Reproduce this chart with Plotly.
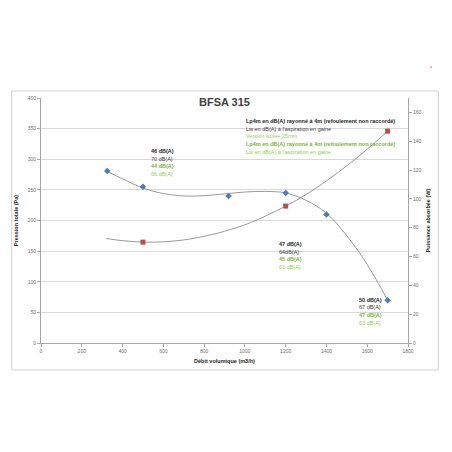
"""BFSA 315 fan curve: total pressure and absorbed power vs air flow."""
from plotly import graph_objects as go

# measured points
flow_pressure = [325, 500, 920, 1200, 1400, 1700]
pressure = [281, 255, 240, 245, 210, 70]
flow_power = [500, 1200, 1700]
power = [70, 95, 147]

# trend curves
trend_p_x = [320, 400, 500, 600, 700, 800, 900, 1000, 1100, 1200, 1300, 1400, 1500, 1600, 1700]
trend_p_y = [281, 268, 253, 244, 240, 240.5, 243.5, 246.5, 247.5, 245, 233, 212, 175, 128, 70]
trend_w_x = [320, 400, 500, 600, 700, 800, 900, 1000, 1100, 1200, 1300, 1400, 1500, 1600, 1700]
trend_w_y = [72.5, 71, 70, 70.2, 71.5, 74, 77.5, 82, 88, 95, 103, 112.5, 123, 134.5, 147]

# acoustic labels (Lp4m, Lw, Lp4m isolated, Lw isolated)
sound_groups = [
    ["46 dB(A)", "70 dB(A)", "44 dB(A)", "66 dB(A)"],
    ["47 dB(A)", "64dB(A)", "45 dB(A)", "61 dB(A)"],
    ["50 dB(A)", "67 dB(A)", "47 dB(A)", "63 dB(A)"],
]
legend_lines = [
    "Lp4m en dB(A) rayonné à 4m (refoulement non raccordé)",
    "Lw en dB(A) à l'aspiration en gaine",
    "Version isolée 25mm",
    "Lp4m en dB(A) rayonné à 4m (refoulement non raccordé)",
    "Lw en dB(A) à l'aspiration en gaine",
]

# label anchors (x in m3/h, y of first line in Pa)
group_pos = [(531, 314), (1156, 162), (1549, 71)]
legend_pos = (994, 363)
line_step = 12.8

sound_styles = [("#262626", True), ("#404040", False), ("#7cb342", True), ("#92d050", False)]
legend_styles = [("#262626", True), ("#404040", False), ("#92d050", False),
                 ("#7cb342", True), ("#92d050", False)]

FONT = "Liberation Sans"

fig = go.Figure()

fig.add_trace(go.Scatter(x=trend_p_x, y=trend_p_y, mode="lines", line_shape="spline",
                         line=dict(color="#7f7f7f", width=0.8), hoverinfo="skip"))
fig.add_trace(go.Scatter(x=trend_w_x, y=trend_w_y, mode="lines", line_shape="spline",
                         line=dict(color="#7f7f7f", width=0.8), yaxis="y2", hoverinfo="skip"))
fig.add_trace(go.Scatter(x=flow_pressure, y=pressure, mode="markers",
                         marker=dict(symbol="diamond", size=5, color="#4a7ebb"),
                         name="Pression totale (Pa)"))
fig.add_trace(go.Scatter(x=flow_power, y=power, mode="markers", yaxis="y2",
                         marker=dict(symbol="square", size=5, color="#be4b48"),
                         name="Puissance absorbée (W)"))


def txt(text, x, y, color, bold):
    fig.add_annotation(
        x=x, y=y, xref="x", yref="y", text=f"<b>{text}</b>" if bold else text,
        showarrow=False, xanchor="left", yanchor="middle",
        font=dict(family=FONT, size=5.5, color=color),
    )


for group, (gx, gy) in zip(sound_groups, group_pos):
    for i, (label, (color, bold)) in enumerate(zip(group, sound_styles)):
        txt(label, gx, gy - i * line_step, color, bold)

for i, (label, (color, bold)) in enumerate(zip(legend_lines, legend_styles)):
    txt(label, legend_pos[0], legend_pos[1] - i * line_step, color, bold)

fig.add_annotation(x=0.5, y=0.984, xref="paper", yref="paper", text="<b>BFSA 315</b>",
                   showarrow=False, yanchor="middle",
                   font=dict(family=FONT, size=11, color="#404040"))

# chart frame and stray mark
fig.add_shape(type="rect", xref="paper", yref="paper", x0=-0.0798, x1=1.0826,
              y0=-0.110, y1=1.0286, line=dict(color="#d0d0d0", width=1))
fig.add_shape(type="circle", xref="paper", yref="paper", x0=1.0600, x1=1.0654,
              y0=1.1240, y1=1.1290, fillcolor="#e03030", line=dict(width=0))

axis_font = dict(family=FONT, size=5, color="#6e6e6e")
title_font = dict(family=FONT, size=5.5, color="#262626")

fig.update_layout(
    width=452,
    height=452,
    margin=dict(l=33, r=52, t=90, b=117),
    paper_bgcolor="white",
    plot_bgcolor="white",
    showlegend=False,
    xaxis=dict(
        range=[0, 1800], dtick=200, showgrid=False, zeroline=False, automargin=False,
        showline=True, linecolor="#a6a6a6", linewidth=1,
        ticks="outside", ticklen=3, tickcolor="#a6a6a6", tickfont=axis_font,
        title=dict(text="<b>Débit volumique (m3/h)</b>", font=title_font, standoff=6),
    ),
    yaxis=dict(
        range=[0, 400], dtick=50, showgrid=True, gridcolor="#d9d9d9", gridwidth=1,
        zeroline=False, showline=True, linecolor="#a6a6a6", linewidth=1, automargin=False,
        ticks="outside", ticklen=3, tickcolor="#a6a6a6", tickfont=axis_font,
        title=dict(text="<b>Pression totale (Pa)</b>", font=title_font, standoff=8),
    ),
    yaxis2=dict(
        range=[0, 170], dtick=20, overlaying="y", side="right", showgrid=False,
        zeroline=False, showline=True, linecolor="#a6a6a6", linewidth=1, automargin=False,
        ticks="outside", ticklen=3, tickcolor="#a6a6a6", tickfont=axis_font,
        title=dict(text="<b>Puissance absorbée (W)</b>", font=title_font, standoff=5),
    ),
)

fig.write_html("out.html")
